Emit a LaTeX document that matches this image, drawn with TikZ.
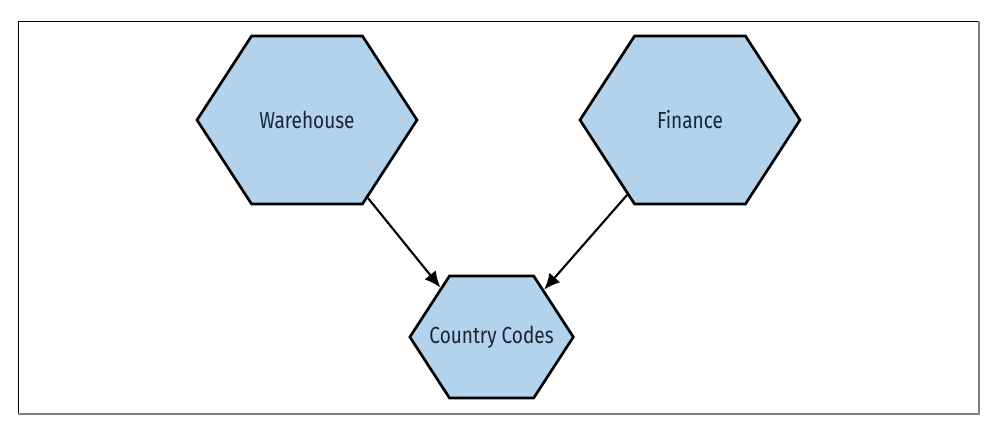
\documentclass[tikz,border=0pt]{standalone}
\usepackage{fontspec}
\setmainfont{Fira Sans}[FakeStretch=0.82]
\usetikzlibrary{shapes.symbols,arrows.meta}
\definecolor{hexblue}{HTML}{B2D3EB}
\definecolor{hextext}{HTML}{1B2535}
\tikzset{
  hexnode/.style={shape=signal, signal to=west and east, signal pointer angle=114,
    draw=black, line width=1.9pt, fill=hexblue, text=hextext, inner sep=0pt,
    font=\fontsize{16.5}{19}\selectfont},
  dep/.style={-{Latex[length=0.4cm,width=0.36cm]}, line width=1.5pt}
}

\begin{document}
\begin{tikzpicture}
\useasboundingbox (0,0) rectangle (24.9,10.725);
% frame
\draw[line width=0.6pt] (0.45,0.375) -- (0.45,10.2) -- (24.475,10.2);
\draw[line width=1pt, gray] (0.45,0.375) -- (24.475,0.375) -- (24.475,10.2);
% domains
\node[hexnode, minimum width=5.5cm, minimum height=4.2cm] (warehouse) at (7.675,7.725) {Warehouse};
\node[hexnode, minimum width=5.5cm, minimum height=4.2cm] (finance) at (17.25,7.725) {Finance};
\node[hexnode, inner xsep=-0.5cm, minimum width=4cm, minimum height=3.05cm] (codes) at (12.29,2.3) {Country Codes};
% dependencies
\draw[dep] (warehouse.-52) -- (codes.136);
\draw[dep] (finance.230) -- (codes.42);
\end{tikzpicture}
\end{document}
